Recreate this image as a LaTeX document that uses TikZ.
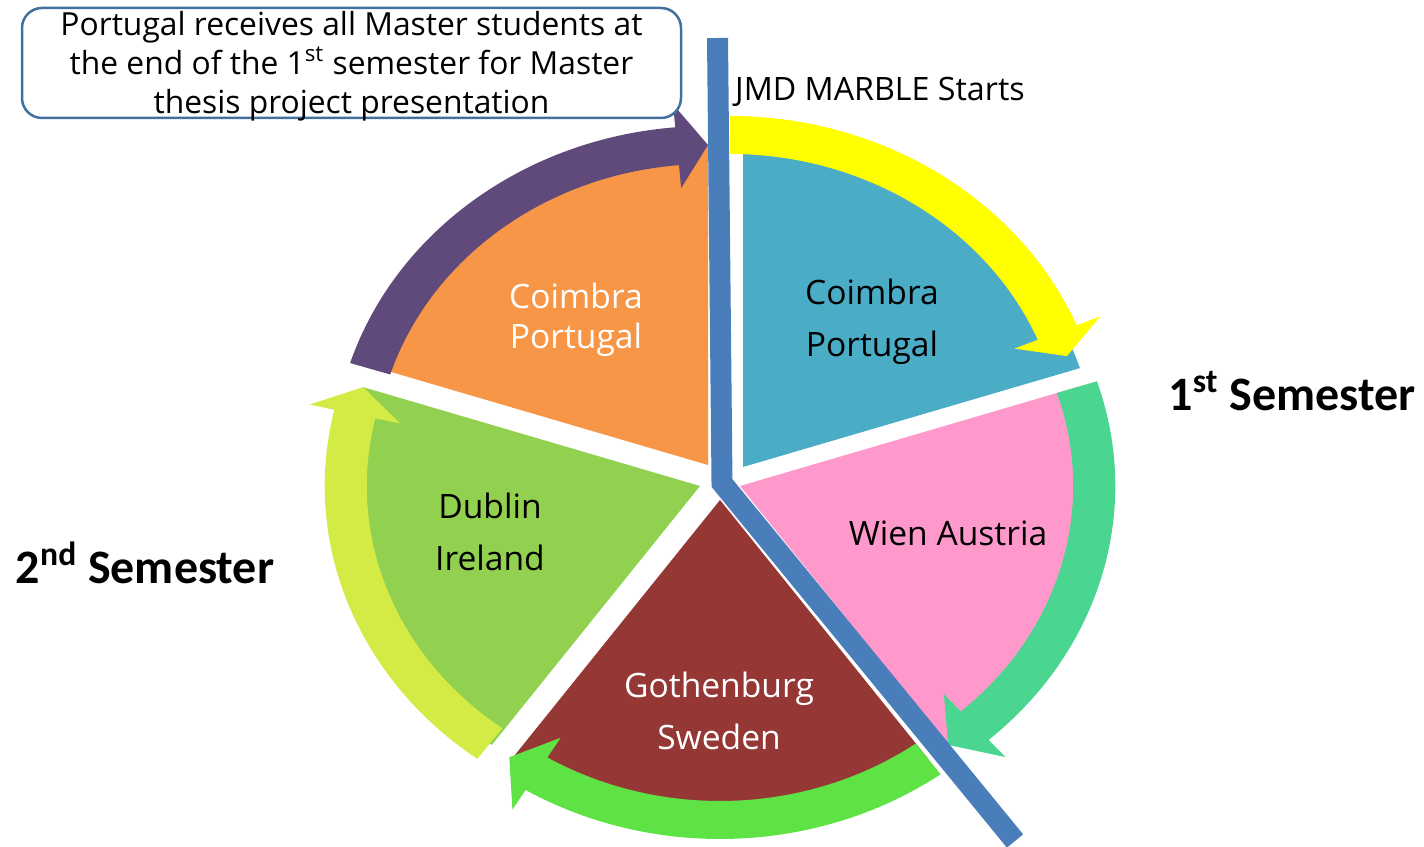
\documentclass[tikz,border=0pt]{standalone}
\usepackage{fontspec}
\setmainfont{Open Sans}
\newfontfamily\calib{Carlito}
\definecolor{blueW}{HTML}{4BACC6}
\definecolor{orangeW}{HTML}{F79646}
\definecolor{dublinW}{HTML}{92D050}
\definecolor{brownW}{HTML}{953735}
\definecolor{pinkW}{HTML}{FF99CC}
\definecolor{yellowA}{HTML}{FFFF00}
\definecolor{purpleA}{HTML}{604A7B}
\definecolor{limeA}{HTML}{D4EB45}
\definecolor{greenA}{HTML}{5FE244}
\definecolor{tealA}{HTML}{4AD691}
\definecolor{lineC}{HTML}{4A7EBB}
\definecolor{calloutC}{HTML}{41719C}
\newcommand\pxwedge[5]{%
  \begin{scope}[shift={(#2,846-#3)},xscale=1.107]
    \fill[#1] (0,0) -- (#4:320) arc[start angle=#4,end angle=#5,radius=320] -- cycle;
  \end{scope}}
\newcommand\pxarrow[6]{%
  \begin{scope}[shift={(#2,846-#3)},xscale=1.107]
    \fill[#1] (#4:339) arc[start angle=#4,end angle=#5,radius=339] -- (#5:362) -- (#6:320) -- (#5:278) -- (#5:301) arc[start angle=#5,end angle=#4,radius=301] -- cycle;
  \end{scope}}
\begin{document}
\begin{tikzpicture}[x=0.5pt,y=0.5pt,
  lbl/.style={align=center,inner sep=0pt},
  semlbl/.style={inner sep=0pt,font=\calib\bfseries\fontsize{24}{28}\selectfont},
  calloutbox/.style={draw=calloutC,line width=1.25pt,rounded corners=10pt,fill=white}]
\useasboundingbox (0,0) rectangle (1424,846);
% wedges
\pxwedge{blueW}{743}{467}{90}{18}
\pxwedge{orangeW}{708}{465}{162}{90}
\pxwedge{dublinW}{700}{486}{234}{162}
\pxwedge{brownW}{720}{500}{306}{234}
\pxwedge{pinkW}{740}{486}{18}{-54}
% arrows
\pxarrow{yellowA}{730}{455}{90}{22.5}{18}
\pxarrow{purpleA}{708}{465}{162.5}{95}{90}
\pxarrow{limeA}{700}{486}{233.6}{167}{162}
\pxarrow{greenA}{720}{500}{306}{238.8}{233.5}
\pxarrow{tealA}{740}{486}{18}{-48.5}{-54}
% divider line
\coordinate (lt) at (717.5,846-38);
\coordinate (lb) at (722,846-483);
\coordinate (le) at (1015,846-841);
\draw[lineC,line width=10.5pt,line join=miter] (lt) -- (lb) -- (le);
% labels
\node[lbl,font=\fontsize{16.8}{20}\selectfont,text=white] (coimO) at (576,846-320) {Coimbra\\Portugal};
\node[lbl,font=\fontsize{16.8}{26}\selectfont] (coimB) at (872,846-322) {Coimbra\\Portugal};
\node[lbl,font=\fontsize{16.8}{26}\selectfont] (dublin) at (490,846-532) {Dublin\\Ireland};
\node[lbl,font=\fontsize{16.8}{26}\selectfont,text=white] (goth) at (719,846-711) {Gothenburg\\Sweden};
\node[lbl,font=\fontsize{16.8}{26}\selectfont] (wien) at (948,846-533) {Wien Austria};
\node[lbl,font=\fontsize{16.1}{20}\selectfont] (jmd) at (880,846-92) {JMD MARBLE Starts};
\node[semlbl] (sem1) at (1292,846-391) {1\textsuperscript{st} Semester};
\node[semlbl] (sem2) at (145,846-563) {2\textsuperscript{nd} Semester};
% callout
\coordinate (cbl) at (22,846-118);
\coordinate (ctr) at (681,846-8);
\draw[calloutbox] (cbl) rectangle (ctr);
\node[lbl,font=\fontsize{15.9}{19.5}\selectfont] (callout) at (351.5,846-66)
  {Portugal receives all Master students at\\the end of the 1\textsuperscript{st} semester for Master\\thesis project presentation};
\end{tikzpicture}
\end{document}
